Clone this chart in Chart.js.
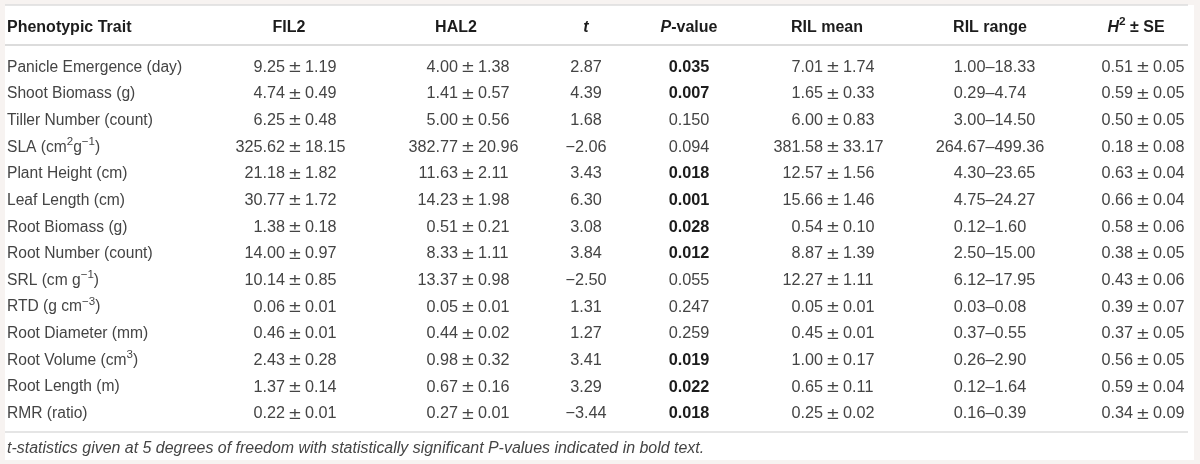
<!DOCTYPE html>
<html><head><meta charset="utf-8">
<script src="https://cdn.jsdelivr.net/npm/chart.js@4.4.0/dist/chart.umd.min.js"></script>
<style>html,body{margin:0;padding:0;background:#f7f3f1;overflow:hidden}#wrap{width:1200px;height:464px}</style>
</head><body><div id="wrap"><canvas id="c" width="1200" height="464"></canvas></div>
<script>
// ---------- DATA ----------
const traits = ["Panicle Emergence (day)","Shoot Biomass (g)","Tiller Number (count)","SLA (cm^{2}g^{\u22121})","Plant Height (cm)","Leaf Length (cm)","Root Biomass (g)","Root Number (count)","SRL (cm g^{\u22121})","RTD (g cm^{\u22123})","Root Diameter (mm)","Root Volume (cm^{3})","Root Length (m)","RMR (ratio)"];
const headers = ["Phenotypic Trait","FIL2","HAL2","_t_","_P_-value","RIL mean","RIL range","_H_^{2} \u00b1 SE"];
const fil2Mean = [9.25,4.74,6.25,325.62,21.18,30.77,1.38,14.00,10.14,0.06,0.46,2.43,1.37,0.22];
const fil2SE   = [1.19,0.49,0.48,18.15,1.82,1.72,0.18,0.97,0.85,0.01,0.01,0.28,0.14,0.01];
const hal2Mean = [4.00,1.41,5.00,382.77,11.63,14.23,0.51,8.33,13.37,0.05,0.44,0.98,0.67,0.27];
const hal2SE   = [1.38,0.57,0.56,20.96,2.11,1.98,0.21,1.11,0.98,0.01,0.02,0.32,0.16,0.01];
const tStat    = [2.87,4.39,1.68,-2.06,3.43,6.30,3.08,3.84,-2.50,1.31,1.27,3.41,3.29,-3.44];
const pValue   = [0.035,0.007,0.150,0.094,0.018,0.001,0.028,0.012,0.055,0.247,0.259,0.019,0.022,0.018];
const rilMean  = [7.01,1.65,6.00,381.58,12.57,15.66,0.54,8.87,12.27,0.05,0.45,1.00,0.65,0.25];
const rilSE    = [1.74,0.33,0.83,33.17,1.56,1.46,0.10,1.39,1.11,0.01,0.01,0.17,0.11,0.02];
const rilMin   = [1.00,0.29,3.00,264.67,4.30,4.75,0.12,2.50,6.12,0.03,0.37,0.26,0.12,0.16];
const rilMax   = [18.33,4.74,14.50,499.36,23.65,24.27,1.60,15.00,17.95,0.08,0.55,2.90,1.64,0.39];
const h2       = [0.51,0.59,0.50,0.18,0.63,0.66,0.58,0.38,0.43,0.39,0.37,0.56,0.59,0.34];
const h2SE     = [0.05,0.05,0.05,0.08,0.04,0.04,0.06,0.05,0.06,0.07,0.05,0.05,0.04,0.09];
const footnote = "_t-statistics given at 5 degrees of freedom with statistically significant P-values indicated in bold text._";
const alpha = 0.05;

// ---------- LAYOUT / STYLE ----------
const L = {
  colX:    [7, 295, 468, 586, 689, 833, 990, 1143],
  headX:   [7, 289, 456, 586, 689, 827, 990, 1136],
  colMode: ["left","pm","pm","center","center","pm","dash","pm"],
  colSize: [15.6, 16.2, 16.2, 16.3, 16.3, 16.2, 16.3, 16.2],
  headRow: -1.5, footRow: 14.31,
  topRule: -2.29, headRule: -0.79, bottomRule: 13.74,
  yMin: -2.477, yMax: 14.934, textDy: 1.3,
  panel: {x0:5, x1:1194, y0:5, y1:460},
  ruleX0: 5, ruleX1: 1188,
  font: "'Liberation Sans', Arial, Helvetica, sans-serif",
  pmFont: "'DejaVu Sans', sans-serif", pmSize: 16.5, pmGap: 4.2,
  headSize: 16, footSize: 15.95, supScale: 0.74,
  color: "#444444", headColor: "#1c1c1c", rule: "#dcdcdc", outer: "#f7f3f1"
};

// ---------- FORMAT ----------
const f2 = v => v.toFixed(2).replace('-', '\u2212');
const pm = (a,b) => a.map((v,i)=> f2(v) + ' \u00b1 ' + f2(b[i]));
const colText = [
  traits,
  pm(fil2Mean, fil2SE),
  pm(hal2Mean, hal2SE),
  tStat.map(f2),
  pValue.map(v => v.toFixed(3)),
  pm(rilMean, rilSE),
  rilMin.map((v,i)=> f2(v) + '\u2013' + f2(rilMax[i])),
  pm(h2, h2SE)
];
const colBold = colText.map((c,ci)=> c.map((_,i)=> ci===4 && pValue[i] < alpha));

// ---------- RICH TEXT ----------
function parse(s){
  const segs=[]; let it=false, i=0, buf='';
  const push=()=>{ if(buf){segs.push({t:buf,it,sup:false}); buf='';} };
  while(i<s.length){
    const ch=s[i];
    if(ch==='_'){ push(); it=!it; i++; continue; }
    if(ch==='^' && s[i+1]==='{'){ push(); const j=s.indexOf('}',i); segs.push({t:s.slice(i+2,j),it,sup:true}); i=j+1; continue; }
    buf+=ch; i++;
  }
  push(); return segs;
}
function fontStr(seg,size,bold){ return (seg.it?'italic ':'')+(bold?'bold ':'')+(seg.sup?size*L.supScale:size)+'px '+L.font; }
function measure(ctx,segs,size,bold){ let w=0; segs.forEach(s=>{ctx.font=fontStr(s,size,bold); w+=ctx.measureText(s.t).width;}); return w; }
function drawRich(ctx,str,x,y,align,size,bold,color){
  const segs=parse(str); const w=measure(ctx,segs,size,bold);
  let cx = align==='left'?x:(align==='right'?x-w:x-w/2);
  ctx.fillStyle=color; ctx.textAlign='left'; ctx.textBaseline='middle';
  segs.forEach(s=>{ ctx.font=fontStr(s,size,bold); ctx.fillText(s.t,cx,s.sup?y-size*0.36:y); cx+=ctx.measureText(s.t).width; });
}
function drawCell(ctx,str,x,y,mode,size,bold,color){
  if(mode==='pm'){
    const k=str.indexOf(' \u00b1 ');
    ctx.font=L.pmSize+'px '+L.pmFont;
    const cw=ctx.measureText('\u00b1').width;
    drawRich(ctx,str.slice(0,k),x-cw/2-L.pmGap+1,y,'right',size,bold,color);
    ctx.fillStyle=color; ctx.textAlign='center'; ctx.textBaseline='middle';
    ctx.font=L.pmSize+'px '+L.pmFont; ctx.fillText('\u00b1',x,y+0.5);
    drawRich(ctx,str.slice(k+3),x+cw/2+L.pmGap-1,y,'left',size,bold,color);
    return;
  }
  if(mode==='dash'){
    const k=str.indexOf('\u2013');
    ctx.font=size+'px '+L.font;
    const cw=ctx.measureText('\u2013').width;
    drawRich(ctx,str.slice(0,k),x-cw/2,y,'right',size,bold,color);
    drawRich(ctx,'\u2013',x,y,'center',size,bold,color);
    drawRich(ctx,str.slice(k+1),x+cw/2,y,'left',size,bold,color);
    return;
  }
  drawRich(ctx,str,x,y,mode==='left'?'left':'center',size,bold,color);
}

// ---------- DATASETS (one per column, one point per cell) ----------
const datasets = colText.map((col,ci)=>({
  label: headers[ci],
  data: col.map((_,ri)=>({x:L.colX[ci], y:ri})),
  texts: col, bold: colBold[ci], mode: L.colMode[ci], size: L.colSize[ci],
  pointRadius:0, pointHoverRadius:0, showLine:false
}));
datasets.push({label:'header', data: headers.map((_,ci)=>({x:L.headX[ci], y:L.headRow})), texts: headers, header:true, pointRadius:0, showLine:false});
datasets.push({label:'foot', data:[{x:L.colX[0], y:L.footRow}], texts:[footnote], foot:true, pointRadius:0, showLine:false});

const tablePlugin = {
  id:'table',
  beforeDraw(chart){
    const {ctx, scales:{x,y}} = chart;
    ctx.save();
    ctx.fillStyle=L.outer; ctx.fillRect(0,0,chart.width,chart.height);
    ctx.fillStyle='#ffffff'; ctx.fillRect(L.panel.x0,L.panel.y0,L.panel.x1-L.panel.x0,L.panel.y1-L.panel.y0);
    ctx.strokeStyle=L.rule;
    [[L.topRule,1.5],[L.headRule,2],[L.bottomRule,1.5]].forEach(([r,w])=>{
      const py=Math.round(y.getPixelForValue(r));
      ctx.lineWidth=w; ctx.beginPath(); ctx.moveTo(x.getPixelForValue(L.ruleX0),py); ctx.lineTo(x.getPixelForValue(L.ruleX1),py); ctx.stroke();
    });
    ctx.restore();
  },
  afterDatasetsDraw(chart){
    const ctx=chart.ctx; ctx.save();
    chart.data.datasets.forEach((ds,di)=>{
      const meta=chart.getDatasetMeta(di);
      meta.data.forEach((pt,i)=>{
        const s=ds.texts[i], py=pt.y+L.textDy;
        if(ds.header){
          drawRich(ctx,s,pt.x,py,i===0?'left':'center',L.headSize,true,L.headColor);
        } else if(ds.foot){
          drawRich(ctx,s,pt.x,py,'left',L.footSize,false,L.color);
        } else {
          drawCell(ctx,s,pt.x,py,ds.mode,ds.size,ds.bold[i],ds.bold[i]?L.headColor:L.color);
        }
      });
    });
    ctx.restore();
  }
};

new Chart(document.getElementById('c'),{
  type:'scatter',
  data:{datasets},
  options:{
    responsive:false, animation:false, devicePixelRatio:1,
    layout:{padding:0},
    events:[],
    plugins:{legend:{display:false}, tooltip:{enabled:false}},
    scales:{
      x:{type:'linear', min:0, max:1200, display:false},
      y:{type:'linear', min:L.yMin, max:L.yMax, reverse:true, display:false}
    }
  },
  plugins:[tablePlugin]
});
</script></body></html>
